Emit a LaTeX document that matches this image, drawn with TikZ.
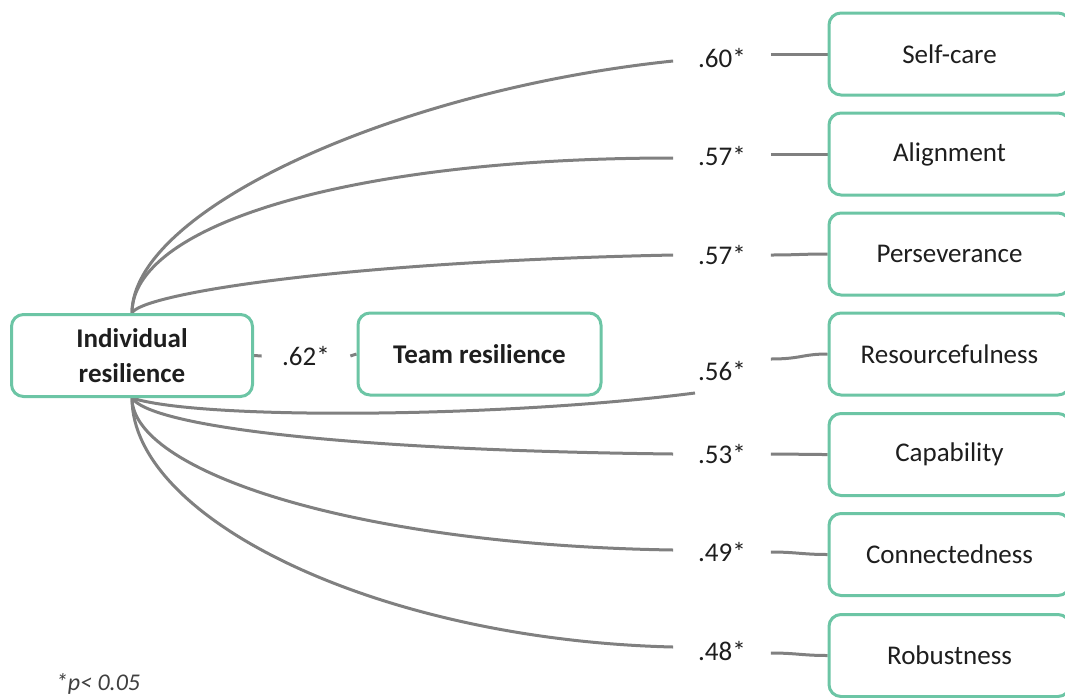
\documentclass[tikz,border=0pt]{standalone}
\usepackage{fontspec}
\setmainfont{Carlito}
\usetikzlibrary{calc,backgrounds}
\definecolor{boxgreen}{HTML}{6CC5A5}
\definecolor{linkgray}{HTML}{808080}
\definecolor{txt}{HTML}{1E1E1E}
\definecolor{notegray}{HTML}{404040}
\begin{document}
\begin{tikzpicture}[x=0.5pt,y=-0.5pt,
  box/.style={draw=boxgreen, line width=1.5pt, rounded corners=6pt, fill=white,
    minimum width=120.5pt, minimum height=41pt, inner sep=0pt, align=center,
    font=\fontsize{13.5}{17.5}\selectfont, text=txt},
  lab/.style={inner sep=0pt, minimum width=48.5pt, minimum height=12pt,
    font=\fontsize{13.5}{16}\selectfont, text=txt},
  link/.style={draw=linkgray, line width=1.5pt}]
\useasboundingbox (0,0) rectangle (1065,697);

% central constructs
\node[box, font=\fontsize{13.5}{17.5}\selectfont\bfseries] (ind) at (132,355.5) {Individual\\resilience};
\node[box, minimum width=121.5pt, font=\fontsize{13.5}{17.5}\selectfont\bfseries] (team) at (479.5,354) {Team resilience};
\node[lab, minimum width=44pt] (l0) at (306,356) {.62*};

% facets of team resilience
\node[box] (s1) at (949.5,54) {Self-care};
\node[box] (s2) at (949.5,154) {Alignment};
\node[box] (s3) at (949.5,254) {Perseverance};
\node[box] (s4) at (949.5,354) {Resourcefulness};
\node[box] (s5) at (949.5,454.5) {Capability};
\node[box] (s6) at (949.5,554.5) {Connectedness};
\node[box] (s7) at (949.5,655.5) {Robustness};

% loadings
\node[lab] (l1) at (722,58) {.60*};
\node[lab] (l2) at (722,156) {.57*};
\node[lab] (l3) at (722,255) {.57*};
\node[lab] (l4) at (722,371) {.56*};
\node[lab] (l5) at (722,454) {.53*};
\node[lab] (l6) at (722,552) {.49*};
\node[lab] (l7) at (722,651) {.48*};

\node[font=\fontsize{12}{14}\selectfont\itshape, text=notegray] (note) at (98,684) {*p< 0.05};

\begin{pgfonlayer}{background}
  \draw[link] (ind.east) -- (l0.west);
  \draw[link] (l0.east) -- (team.west);

  \draw[link] (ind.north) .. controls (132,210) and (395,90) .. ([yshift=-1.5pt]l1.west);
  \draw[link] (ind.north) .. controls (132,225) and (350,158) .. ([yshift=-1pt]l2.west);
  \draw[link] (ind.north) .. controls (140,295) and (330,262) .. (l3.west);
  \draw[link] (ind.south) .. controls (200,420) and (500,418) .. ($(l4.center)+(-27,22)$);
  \draw[link] (ind.south) .. controls (150,425) and (330,450) .. (l5.west);
  \draw[link] (ind.south) .. controls (132,470) and (350,545) .. ([yshift=1pt]l6.west);
  \draw[link] (ind.south) .. controls (132,520) and (380,640) .. ([yshift=2pt]l7.west);

  \draw[link] ([yshift=2pt]l1.east) .. controls +(25,0) and +(-25,0) .. (s1.west);
  \draw[link] ([yshift=1pt]l2.east) .. controls +(25,0) and +(-25,0) .. (s2.west);
  \draw[link] (l3.east) .. controls +(25,0) and +(-25,0) .. (s3.west);
  \draw[link] ($(l4.east)+(0,-12)$) .. controls +(30,0) and +(-25,0) .. (s4.west);
  \draw[link] (l5.east) .. controls +(25,0) and +(-25,0) .. (s5.west);
  \draw[link] (l6.east) .. controls +(25,0) and +(-25,0) .. (s6.west);
  \draw[link] ([yshift=-1pt]l7.east) .. controls +(25,0) and +(-25,0) .. (s7.west);
\end{pgfonlayer}
\end{tikzpicture}
\end{document}
